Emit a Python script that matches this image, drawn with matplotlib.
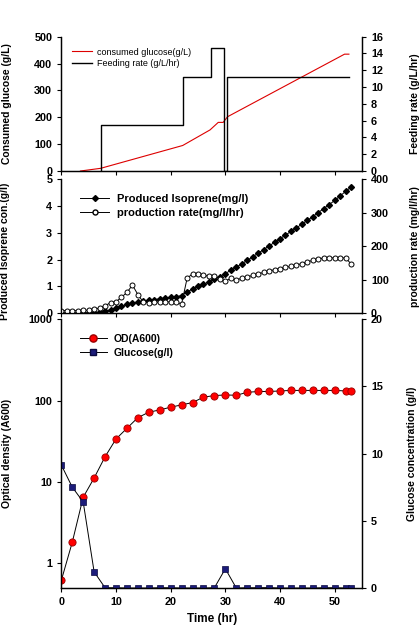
import matplotlib
matplotlib.use("Agg")
import matplotlib.pyplot as plt
from matplotlib.lines import Line2D

plt.rcParams['font.family'] = ['Liberation Sans', 'DejaVu Sans']
plt.rcParams['axes.linewidth'] = 0.9

# ---- top panel: consumed glucose and feeding rate
cons_t = [3.5, 7.2, 22.2, 27.2, 28.7, 29.6, 30.4, 51.8, 52.6]
cons_gluc = [0, 10, 95, 153, 181, 181, 202, 435, 435]
feed_t = [7.2, 7.2, 22.3, 27.3, 29.7, 30.3, 52.7]
feed_rate = [0, 5.45, 11.15, 14.6, 0, 11.15, 11.15]

# ---- middle panel: isoprene, hourly samples
iso_t = list(range(54))
iso_conc = [0.0, 0.0, 0.0, 0.0, 0.01, 0.02, 0.03, 0.05, 0.08, 0.13,
            0.2, 0.26, 0.33, 0.39, 0.42, 0.45, 0.48, 0.51, 0.54, 0.57,
            0.6, 0.62, 0.66, 0.8, 0.9, 1.0, 1.08, 1.17, 1.27, 1.37,
            1.48, 1.6, 1.72, 1.84, 1.97, 2.1, 2.24, 2.37, 2.51, 2.64,
            2.78, 2.91, 3.05, 3.18, 3.32, 3.46, 3.6, 3.75, 3.9, 4.05,
            4.2, 4.37, 4.54, 4.7]
iso_rate = [8, 8, 8, 8, 9, 9, 12, 16, 22, 32,
            34, 48, 62, 84, 56, 33, 32, 33, 33, 34,
            34, 33, 28, 104, 118, 116, 114, 110, 112, 103,
            96, 104, 100, 104, 108, 113, 117, 122, 126, 130,
            133, 137, 140, 144, 148, 153, 158, 162, 165, 165,
            165, 165, 165, 147]

# ---- bottom panel: OD and residual glucose
od_t = [0, 2, 4, 6, 8, 10, 12, 14, 16, 18, 20, 22, 24, 26, 28, 30, 32, 34,
        36, 38, 40, 42, 44, 46, 48, 50, 52, 53]
od = [0.62, 1.82, 6.5, 11.2, 20.4, 33.7, 45.6, 61.7, 71.8, 76.7, 82.8, 88.4,
      94.4, 110, 115, 117, 116, 126, 129, 129, 131, 133, 133, 133, 133, 133,
      131, 131]
glu = [9.15, 7.5, 6.4, 1.2, 0.02, 0.02, 0.0, 0.0, 0.0, 0.02, 0.02, 0.0,
       0.0, 0.0, 0.02, 1.43, 0.0, 0.02, 0.02, 0.03, 0.0, 0.0, 0.0, 0.0,
       0.02, 0.02, 0.0, 0.0]

xticks = [0, 10, 20, 30, 40, 50]
lab_font = dict(fontsize=7.5, fontweight='bold')

fig = plt.figure(figsize=(4.2, 6.35), dpi=100)
L, W = 0.146, 0.716


def style(ax, ax2):
    for a in (ax, ax2):
        a.spines['top'].set_visible(False)
        a.tick_params(direction='out', length=3, width=0.8, labelsize=7.8)
        for lab in a.get_yticklabels() + a.get_xticklabels():
            lab.set_fontweight('bold')
    ax.set_xlim(0, 55)
    ax.set_xticks(xticks)


# top
ax1 = fig.add_axes([L, 0.7307, W, 0.2115])
ax1b = ax1.twinx()
ax1.plot(cons_t, cons_gluc, color='#dd0000', lw=0.8)
ax1b.plot(feed_t, feed_rate, color='black', lw=1.0, drawstyle='steps-post')
ax1.set_ylim(0, 500)
ax1.set_yticks([0, 100, 200, 300, 400, 500])
ax1b.set_ylim(0, 16)
ax1b.set_yticks(range(0, 17, 2))
ax1.set_xticklabels([])
style(ax1, ax1b)
ax1.set_ylabel('Consumed glucose (g/L)', **lab_font)
ax1b.set_ylabel('Feeding rate (g/L/hr)', **lab_font)
ax1.yaxis.set_label_coords(-0.165, 0.5)
ax1b.yaxis.set_label_coords(1.16, 0.5)
h1 = [Line2D([], [], color='#dd0000', lw=0.8), Line2D([], [], color='black', lw=1.0)]
ax1.legend(h1, ['consumed glucose(g/L)', 'Feeding rate (g/L/hr)'], loc='upper left',
           bbox_to_anchor=(0.01, 0.98), frameon=False, fontsize=6.5,
           handlelength=2.2, handletextpad=0.5, labelspacing=0.3)

# middle
ax2 = fig.add_axes([L, 0.5066, W, 0.2115])
ax2b = ax2.twinx()
ax2.plot(iso_t, iso_conc, color='black', lw=0.7, marker='D', ms=3.0,
         mfc='black', mec='black')
ax2b.plot(iso_t, iso_rate, color='black', lw=0.7, marker='o', ms=3.6,
          mfc='white', mec='black', mew=0.7)
ax2.set_ylim(0, 5)
ax2.set_yticks(range(6))
ax2b.set_ylim(0, 400)
ax2b.set_yticks([0, 100, 200, 300, 400])
ax2.set_xticklabels([])
style(ax2, ax2b)
ax2.set_ylabel('Produced Isoprene con.(g/l)', **lab_font)
ax2b.set_ylabel('production rate (mg/l/hr)', **lab_font)
ax2.yaxis.set_label_coords(-0.17, 0.46)
ax2b.yaxis.set_label_coords(1.16, 0.5)
h2 = [Line2D([], [], color='black', lw=0.7, marker='D', ms=3.0),
      Line2D([], [], color='black', lw=0.7, marker='o', ms=3.6, mfc='white')]
ax2.legend(h2, ['Produced Isoprene(mg/l)', 'production rate(mg/l/hr)'],
           loc='upper left', bbox_to_anchor=(0.03, 0.96), frameon=False,
           prop=dict(size=8, weight='bold'), handlelength=2.6,
           handletextpad=0.7, labelspacing=0.35)

# bottom
ax3 = fig.add_axes([L, 0.074, W, 0.4236])
ax3b = ax3.twinx()
ax3.plot(od_t, od, color='black', lw=0.7, marker='o', ms=5.2,
         mfc='#ff0000', mec='#990000', mew=0.6)
ax3b.plot(od_t, glu, color='black', lw=0.7, marker='s', ms=3.8,
          mfc='#1c1c7a', mec='#0a0a40', mew=0.5)
ax3.set_yscale('log')
ax3.set_ylim(0.5, 1000)
ax3.set_yticks([1, 10, 100, 1000])
ax3.set_yticklabels(['1', '10', '100', '1000'])
ax3b.set_ylim(0, 20)
ax3b.set_yticks([0, 5, 10, 15, 20])
style(ax3, ax3b)
ax3.minorticks_off()
ax3.set_xlabel('Time (hr)', fontsize=8.5, fontweight='bold')
ax3.set_ylabel('Optical density (A600)', **lab_font)
ax3b.set_ylabel('Glucose concentration (g/l)', **lab_font)
ax3.yaxis.set_label_coords(-0.165, 0.5)
ax3b.yaxis.set_label_coords(1.15, 0.5)
h3 = [Line2D([], [], color='black', lw=0.7, marker='o', ms=5.2,
             mfc='#ff0000', mec='#990000'),
      Line2D([], [], color='black', lw=0.7, marker='s', ms=3.8,
             mfc='#1c1c7a', mec='#0a0a40')]
ax3.legend(h3, ['OD(A600)', 'Glucose(g/l)'], loc='upper left',
           bbox_to_anchor=(0.03, 0.98), frameon=False,
           prop=dict(size=7.5, weight='bold'), handlelength=2.6,
           handletextpad=0.7, labelspacing=0.4)

fig.savefig('out.png', dpi=100)
